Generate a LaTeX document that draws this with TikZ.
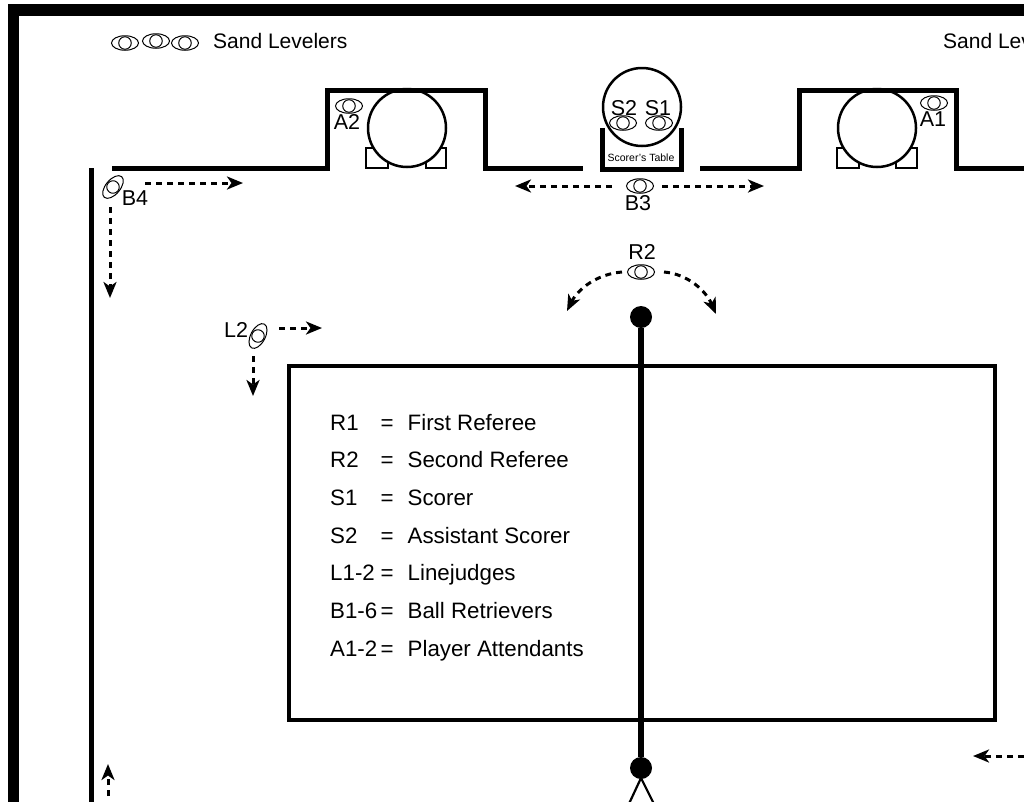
\documentclass[tikz,border=0pt]{standalone}
\usepackage{fontspec}
\setmainfont{Liberation Sans}
\usetikzlibrary{arrows.meta,shapes.geometric}
\tikzset{
  wall/.style={line width=5pt,line join=miter},
  court/.style={line width=4pt},
  chairline/.style={line width=2pt},
  move/.style={line width=3pt,dash pattern=on 6pt off 5pt,-{Stealth[length=16pt,width=13pt,inset=4.5pt]}},
  lab/.style={inner sep=0pt,font=\fontsize{21.5}{21.5}\selectfont},
  leg/.style={inner sep=0pt,anchor=base west,font=\fontsize{22.3}{22.3}\selectfont},
  outer/.style={draw,ellipse,line width=1pt,minimum width=27pt,minimum height=14.5pt,inner sep=0pt},
  inner/.style={draw,circle,line width=1pt,minimum size=12.5pt,inner sep=0pt},
  pdot/.style={fill=black,circle,minimum size=22pt,inner sep=0pt},
  pics/person/.style={code={\node[outer,rotate=#1] {};\node[inner,rotate=#1] {};}},
  pics/person/.default=0
}
\begin{document}
\begin{tikzpicture}[x=1pt,y=-1pt]
\useasboundingbox (0,0) rectangle (1024,801);
\clip (0,0) rectangle (1024,801);
% outer boundary
\draw[line width=11.5pt] (13.5,815) -- (13.5,10) -- (1040,10);
% inner boundary
\draw[line width=5pt] (91.5,168) -- (91.5,815);
% attendants' and scorer's chairs
\draw[chairline] (366,148) rectangle (388,168);
\draw[chairline] (426,148) rectangle (446,168);
\draw[chairline] (837,148) rectangle (859,168);
\draw[chairline] (896,148) rectangle (917,168);
\node[draw,circle,fill=white,line width=2.5pt,minimum size=78pt,inner sep=0pt] (ballL) at (407,128) {};
\node[draw,circle,fill=white,line width=2.5pt,minimum size=78pt,inner sep=0pt] (ballR) at (877,128) {};
% walls
\draw[wall] (112,168) -- (327.5,168) -- (327.5,90) -- (485,90) -- (485,168) -- (583,168);
\draw[wall] (700,168.5) -- (799,168.5) -- (799,90) -- (956,90) -- (956,168.5) -- (1040,168.5);
% scorer's table
\draw[wall] (602.5,128) -- (602.5,169) -- (681.5,169) -- (681.5,128);
\node[draw,circle,fill=white,line width=2.5pt,minimum size=78pt,inner sep=0pt] (scorer) at (642,107) {};
\node[inner sep=0pt,font=\fontsize{10.5}{10.5}\selectfont] (tabletext) at (641,158) {Scorer's Table};
% court
\draw[court] (289,366) rectangle (995,720);
% net
\node[pdot] (polet) at (641,317) {};
\node[pdot] (poleb) at (641,768) {};
\draw[line width=5.5pt] (polet) -- (poleb);
\coordinate (legl) at (627,808);
\coordinate (legr) at (656,808);
\draw[line width=2.2pt] (legl) -- (641,778) -- (legr);
% people
\pic at (125,43) {person};
\pic at (156,41) {person};
\pic at (185,43) {person};
\pic at (349,106) {person};
\pic at (934,103) {person};
\pic at (623,123) {person};
\pic at (659,123) {person};
\pic at (640,186) {person};
\pic at (641,272) {person};
\pic at (113,187) {person=50};
\pic at (258,336) {person=62};
% labels
\node[inner sep=0pt,anchor=base west,font=\fontsize{21}{21}\selectfont] (sl1) at (213,48) {Sand Levelers};
\node[inner sep=0pt,anchor=base west,font=\fontsize{21}{21}\selectfont] (sl2) at (943,48) {Sand Levelers};
\node[lab] (a2) at (347,122) {A2};
\node[lab] (a1) at (933,119) {A1};
\node[lab] (s2) at (624,108) {S2};
\node[lab] (s1) at (658,108) {S1};
\node[lab] (b3) at (638,203) {B3};
\node[lab] (b4) at (135,198) {B4};
\node[lab] (l2) at (236,330) {L2};
\node[lab] (r2) at (642,252) {R2};
% movement arrows
\coordinate (b3a) at (612,186); \coordinate (b3at) at (515,186);
\coordinate (b3b) at (662,186); \coordinate (b3bt) at (764,186);
\draw[move] (b3a) -- (b3at);
\draw[move] (b3b) -- (b3bt);
\coordinate (b4a) at (145,183); \coordinate (b4at) at (243,183);
\coordinate (b4b) at (110,207); \coordinate (b4bt) at (110,298);
\draw[move] (b4a) -- (b4at);
\draw[move] (b4b) -- (b4bt);
\coordinate (l2a) at (279,328); \coordinate (l2at) at (322,328);
\coordinate (l2b) at (253,356); \coordinate (l2bt) at (253,396);
\draw[move] (l2a) -- (l2at);
\draw[move] (l2b) -- (l2bt);
\coordinate (r2a) at (622,272); \coordinate (r2at) at (567,311);
\coordinate (r2b) at (664,272); \coordinate (r2bt) at (716,314);
\draw[move] (r2a) .. controls (597,274) and (578,289) .. (r2at);
\draw[move] (r2b) .. controls (688,274) and (706,291) .. (r2bt);
\coordinate (bra) at (1024,756); \coordinate (brat) at (973,756);
\draw[move] (bra) -- (brat);
\coordinate (bla) at (108,796); \coordinate (blat) at (108,764);
\draw[move] (bla) -- (blat);
% legend
\node[leg] (k1) at (330,430) {R1};  \node[leg] (e1) at (380.5,430) {=}; \node[leg] (v1) at (407.5,430) {First Referee};
\node[leg] (k2) at (330,467) {R2};  \node[leg] (e2) at (380.5,467) {=}; \node[leg] (v2) at (407.5,467) {Second Referee};
\node[leg] (k3) at (330,505) {S1};  \node[leg] (e3) at (380.5,505) {=}; \node[leg] (v3) at (407.5,505) {Scorer};
\node[leg] (k4) at (330,543) {S2};  \node[leg] (e4) at (380.5,543) {=}; \node[leg] (v4) at (407.5,543) {Assistant Scorer};
\node[leg] (k5) at (330,580) {L1-2}; \node[leg] (e5) at (380.5,580) {=}; \node[leg] (v5) at (407.5,580) {Linejudges};
\node[leg] (k6) at (330,618) {B1-6}; \node[leg] (e6) at (380.5,618) {=}; \node[leg] (v6) at (407.5,618) {Ball Retrievers};
\node[leg] (k7) at (330,656) {A1-2}; \node[leg] (e7) at (380.5,656) {=}; \node[leg] (v7) at (407.5,656) {Player Attendants};
\end{tikzpicture}
\end{document}
